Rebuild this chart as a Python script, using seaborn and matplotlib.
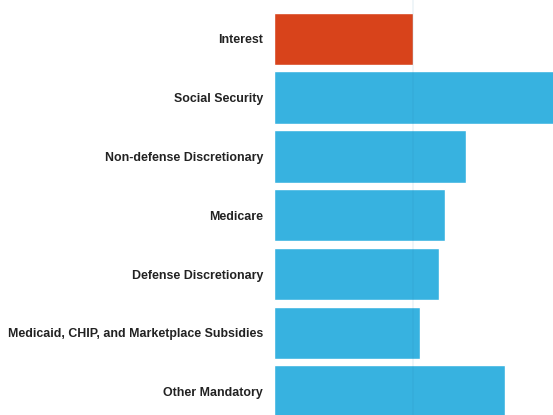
import matplotlib.pyplot as plt
import pandas as pd
import seaborn as sns

# Federal outlays by category (billions of dollars)
categories = [
    "Interest",
    "Social Security",
    "Non-defense Discretionary",
    "Medicare",
    "Defense Discretionary",
    "Medicaid, CHIP, and Marketplace Subsidies",
    "Other Mandatory",
]
outlays = [659, 1348, 914, 814, 787, 696, 1101]
highlight = ["Interest"]

ORANGE = "#D8431B"
BLUE = "#37B2E0"


def main():
    df = pd.DataFrame({"Category": categories, "Outlays": outlays})
    df["Group"] = ["hi" if c in highlight else "base" for c in df["Category"]]

    sns.set_theme(style="white")
    plt.rcParams["font.family"] = ["Liberation Sans Narrow", "Liberation Sans", "DejaVu Sans"]

    fig = plt.figure(figsize=(5.53, 4.15), dpi=100)
    ax = fig.add_axes([274 / 553, 0, 1 - 274 / 553, 1])

    sns.barplot(
        data=df,
        x="Outlays",
        y="Category",
        hue="Group",
        palette={"hi": ORANGE, "base": BLUE},
        order=categories,
        width=0.89,
        dodge=False,
        legend=False,
        saturation=1,
        ax=ax,
    )

    # faint reference line at the interest level
    ax.axvline(outlays[0], color="#1a6f99", alpha=0.08, lw=1.2, zorder=3)

    ax.set_xlim(0, 1327)
    ax.set_ylim(6.397, -0.661)
    ax.set_xlabel("")
    ax.set_ylabel("")
    ax.set_xticks([])
    ax.tick_params(axis="y", length=0, pad=8)
    for lbl in ax.get_yticklabels():
        lbl.set_fontweight("bold")
        lbl.set_fontsize(8.9)
        lbl.set_color("#222222")
    sns.despine(ax=ax, left=True, bottom=True)

    fig.savefig("out.png", dpi=100)


if __name__ == "__main__":
    main()
